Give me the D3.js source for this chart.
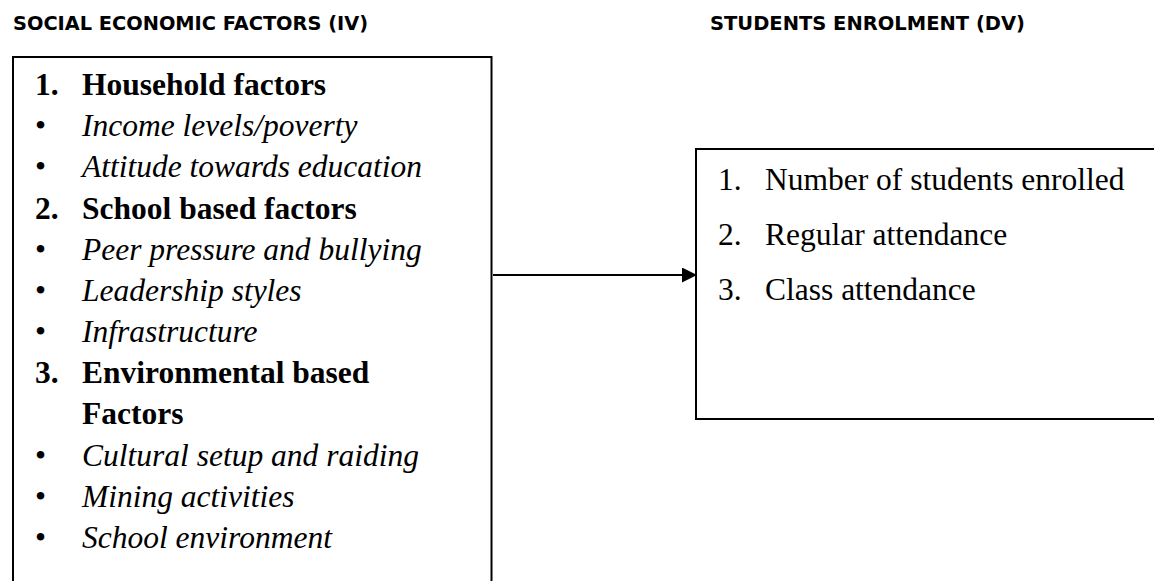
<!DOCTYPE html>
<html>
<head>
<meta charset="utf-8">
<script src="https://cdn.jsdelivr.net/npm/d3@7"></script>
<style>
  body { margin: 0; background: #fff; }
  svg { display: block; }
  .serif { font-family: 'Liberation Serif', 'Times New Roman', Times, serif; }
  .sans { font-family: 'DejaVu Sans', Verdana, sans-serif; }
</style>
</head>
<body>
<div id="chart"></div>
<script>
// Conceptual framework: independent variables -> dependent variable

const headers = ['SOCIAL ECONOMIC FACTORS (IV)', 'STUDENTS ENROLMENT (DV)'];

// left box lines: kind = head (numbered bold), cont (bold continuation), bullet (italic)
const ivKinds = ['head', 'bullet', 'bullet', 'head', 'bullet', 'bullet', 'bullet',
                 'head', 'cont', 'bullet', 'bullet', 'bullet'];
const ivNums = ['1.', '', '', '2.', '', '', '', '3.', '', '', '', ''];
const ivTexts = ['Household factors', 'Income levels/poverty', 'Attitude towards education',
                 'School based factors', 'Peer pressure and bullying', 'Leadership styles',
                 'Infrastructure', 'Environmental based', 'Factors',
                 'Cultural setup and raiding', 'Mining activities', 'School environment'];

const dvNums = ['1.', '2.', '3.'];
const dvTexts = ['Number of students enrolled', 'Regular attendance', 'Class attendance'];

const width = 1154, height = 581;

const svg = d3.select('#chart')
    .append('svg')
    .attr('width', width)
    .attr('height', height);

// arrow marker
svg.append('defs').append('marker')
    .attr('id', 'arrow')
    .attr('viewBox', '0 0 10 10')
    .attr('refX', 10)
    .attr('refY', 5)
    .attr('markerUnits', 'userSpaceOnUse')
    .attr('markerWidth', 16)
    .attr('markerHeight', 15)
    .attr('orient', 'auto')
    .append('path')
    .attr('d', 'M0,0L10,5L0,10Z')
    .attr('fill', '#000');

// Headers
svg.selectAll('.hdr')
    .data(headers)
    .enter()
    .append('text')
    .attr('class', 'hdr sans')
    .attr('x', (d, i) => i === 0 ? 13 : 710)
    .attr('y', 30)
    .attr('textLength', (d, i) => i === 0 ? 355 : 315)
    .attr('lengthAdjust', 'spacingAndGlyphs')
    .style('font-weight', 'bold')
    .style('font-size', '20px')
    .attr('fill', '#000')
    .text(d => d);

// Boxes (both run off the page edge)
const boxes = [
    { x: 13, y: 57, w: 478.5, h: 560 },
    { x: 696, y: 149, w: 500, h: 270 }
];
svg.selectAll('.box')
    .data(boxes)
    .enter()
    .append('rect')
    .attr('class', 'box')
    .attr('x', d => d.x)
    .attr('y', d => d.y)
    .attr('width', d => d.w)
    .attr('height', d => d.h)
    .attr('fill', 'none')
    .attr('stroke', '#000')
    .attr('stroke-width', 2);

// Arrow between boxes
svg.append('line')
    .attr('x1', 493)
    .attr('x2', 697)
    .attr('y1', 275)
    .attr('y2', 275)
    .attr('stroke', '#000')
    .attr('stroke-width', 2)
    .attr('marker-end', 'url(#arrow)');

// Left box content
const yIv = d3.scaleLinear().domain([0, ivTexts.length - 1]).range([95, 548]);
const ivData = ivTexts.map((t, i) => ({ text: t, kind: ivKinds[i], num: ivNums[i], i }));

const ivG = svg.append('g')
    .attr('class', 'serif')
    .style('font-size', '31.5px')
    .attr('fill', '#000');

ivG.selectAll('.num')
    .data(ivData.filter(d => d.num))
    .enter()
    .append('text')
    .attr('x', 35)
    .attr('y', d => yIv(d.i))
    .style('font-weight', 'bold')
    .text(d => d.num);

ivG.selectAll('.bul')
    .data(ivData.filter(d => d.kind === 'bullet'))
    .enter()
    .append('text')
    .attr('x', 35)
    .attr('y', d => yIv(d.i))
    .text('\u2022');

ivG.selectAll('.item')
    .data(ivData)
    .enter()
    .append('text')
    .attr('x', 82)
    .attr('y', d => yIv(d.i))
    .style('font-weight', d => d.kind === 'bullet' ? 'normal' : 'bold')
    .style('font-style', d => d.kind === 'bullet' ? 'italic' : 'normal')
    .text(d => d.text);

// Right box content
const yDv = d3.scaleLinear().domain([0, dvTexts.length - 1]).range([190, 300]);
const dvG = svg.append('g')
    .attr('class', 'serif')
    .style('font-size', '31.5px')
    .attr('fill', '#000');

dvG.selectAll('.dnum')
    .data(dvNums)
    .enter()
    .append('text')
    .attr('x', 718)
    .attr('y', (d, i) => yDv(i))
    .text(d => d);

dvG.selectAll('.ditem')
    .data(dvTexts)
    .enter()
    .append('text')
    .attr('x', 765)
    .attr('y', (d, i) => yDv(i))
    .text(d => d);
</script>
</body>
</html>
